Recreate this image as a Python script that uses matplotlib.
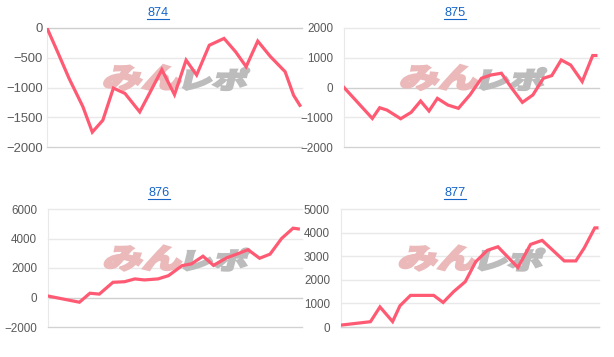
import matplotlib
matplotlib.use('Agg')
import matplotlib.pyplot as plt
from matplotlib.font_manager import FontProperties
from matplotlib.textpath import TextPath
from matplotlib.patches import PathPatch
from matplotlib.transforms import Affine2D, IdentityTransform
from matplotlib.lines import Line2D

plt.rcParams['font.family'] = ['Liberation Sans', 'Noto Sans CJK JP', 'DejaVu Sans']

# machine numbers (titles)
titles = ['874', '875', '876', '877']

# x = day position, y = coin difference
x874 = [0, 1.0, 2.1, 3.4, 4.3, 5.3, 6.3, 7.4, 8.8, 9.9, 10.9, 12.1, 13.2, 14.2,
        15.4, 16.8, 17.9, 18.9, 20.0, 21.2, 22.6, 23.4, 24.0]
y874 = [0, -400, -850, -1320, -1750, -1550, -1010, -1100, -1410, -1040, -700,
        -1120, -540, -790, -290, -175, -400, -650, -220, -480, -735, -1130, -1300]

x875 = [0, 2.7, 3.4, 4.1, 5.4, 6.4, 7.3, 8.1, 8.9, 9.9, 10.9, 12.0, 13.1, 14.0,
        15.0, 16.0, 17.0, 18.0, 19.0, 19.8, 20.7, 21.6, 22.7, 23.7, 24.0]
y875 = [0, -1040, -680, -760, -1050, -835, -455, -790, -365, -590, -700, -250,
        310, 420, 480, -30, -500, -250, 310, 400, 925, 755, 200, 1075, 1075]

x876 = [0, 3.0, 4.0, 4.9, 6.2, 7.3, 8.3, 9.2, 10.5, 11.5, 12.8, 13.7, 14.8,
        15.8, 17.1, 18.2, 19.1, 20.2, 21.2, 22.3, 23.4, 23.9]
y876 = [100, -320, 290, 230, 1030, 1070, 1260, 1190, 1260, 1480, 2160, 2280,
        2800, 2180, 2700, 2990, 3240, 2660, 2940, 4000, 4700, 4650]

x877 = [0, 2.8, 3.7, 4.9, 5.6, 6.6, 8.8, 9.7, 10.7, 11.8, 12.8, 13.9, 14.9,
        16.8, 18.0, 19.1, 21.2, 22.3, 23.1, 24.1, 24.3]
y877 = [80, 225, 850, 230, 900, 1340, 1340, 1040, 1500, 1920, 2770, 3250, 3400,
        2520, 3500, 3670, 2800, 2800, 3350, 4200, 4200]

yticks874 = [0, -500, -1000, -1500, -2000]
yticks875 = [2000, 1000, 0, -1000, -2000]
yticks876 = [6000, 4000, 2000, 0, -2000]
yticks877 = [5000, 4000, 3000, 2000, 1000, 0]

series = [(x874, y874, yticks874), (x875, y875, yticks875),
          (x876, y876, yticks876), (x877, y877, yticks877)]

# layout in pixels (614 x 357 figure)
W, H = 614, 357
boxes = [(47, 28, 302, 147), (344, 28, 599, 147),
         (48, 209, 302, 327), (341, 209, 599, 327)]
xright = [24.2, 24.3, 24.25, 24.5]
title_pos = [(158, 13), (455, 13), (159, 193), (455, 193)]
label_size = [9.4, 8.4, 8.4, 8.4]

line_color = '#ff5a73'
link_color = '#1565c8'

fig = plt.figure(figsize=(W / 100, H / 100), dpi=100)
fig.patch.set_facecolor('white')

wm_font = FontProperties(family='Noto Sans CJK JP', weight='black')


def watermark(ax):
    cx, cy = ax.transAxes.transform((0.5, 0.58))
    parts = [('みん', '#ebb9b9', -72, 76, 25), ('レポ', '#bcbcbc', 8, 62, 22)]
    for txt, col, x0, w, h in parts:
        tp = TextPath((0, 0), txt, size=1, prop=wm_font)
        bb = tp.get_extents()
        tr = (Affine2D().translate(-bb.x0, -bb.y0)
              .scale(w / bb.width, h / bb.height)
              .skew_deg(14, 0)
              .translate(cx + x0, cy - 12))
        p = PathPatch(tr.transform_path(tp), fc=col, ec=col, lw=1.6,
                      transform=IdentityTransform(), zorder=1)
        ax.add_artist(p)


title_texts = []
for i, (xs, ys, ticks) in enumerate(series):
    l, t, r, b = boxes[i]
    ax = fig.add_axes([l / W, 1 - b / H, (r - l) / W, (b - t) / H])
    ax.set_facecolor('none')
    ax.plot(xs, ys, color=line_color, lw=2.3, solid_joinstyle='miter', zorder=3)
    ax.set_xlim(xs[0], xright[i])
    ax.set_ylim(min(ticks), max(ticks))
    for v in ticks:
        c = '#cfcfcf' if v == 0 else '#e9e9e9'
        ax.axhline(v, color=c, lw=1, zorder=0, clip_on=False)
    for s in ['top', 'right']:
        ax.spines[s].set_visible(False)
    ax.spines['left'].set_color('#e9e9e9')
    ax.spines['bottom'].set_color('#d2d2d2')
    ax.set_xticks([])
    ax.set_yticks(ticks)
    ax.tick_params(axis='y', length=0, pad=3 if i == 0 else 8,
                   labelsize=label_size[i], labelcolor='#5a5a5a')
    watermark(ax)

    tx, ty = title_pos[i]
    tt = fig.text(tx / W, 1 - ty / H, titles[i], ha='center', va='center',
                  fontsize=9.2, color=link_color)
    title_texts.append(tt)

# underline the titles (they are links)
fig.canvas.draw()
for tt in title_texts:
    bb = tt.get_window_extent()
    fig.add_artist(Line2D([bb.x0, bb.x1], [bb.y0 + 0.5, bb.y0 + 0.5],
                          transform=IdentityTransform(), color=link_color, lw=0.8))

fig.savefig('out.png', dpi=100)
